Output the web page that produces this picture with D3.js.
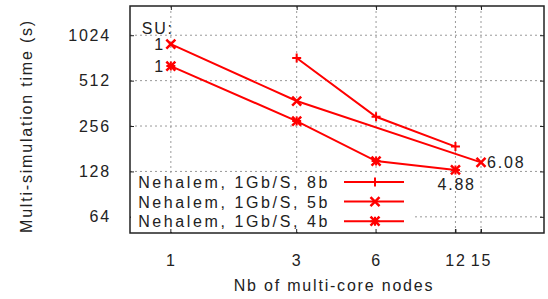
<!DOCTYPE html>
<html>
<head>
<meta charset="utf-8">
<script src="https://cdn.jsdelivr.net/npm/d3@7"></script>
<style>
  body { margin: 0; background: #fff; }
  text { font-family: "Liberation Sans", Arial, sans-serif; font-size: 16px; fill: #222; letter-spacing: 1.8px; }
  .legend text { letter-spacing: 2.6px; }
</style>
</head>
<body>
<div id="chart-container"></div>
<script>
// data
var xTicks = [1, 3, 6, 12, 15];
var yTicks = [64, 128, 256, 512, 1024];
var seriesNames = ["Nehalem, 1Gb/S, 8b", "Nehalem, 1Gb/S, 5b", "Nehalem, 1Gb/S, 4b"];
var nodes8b = [3, 6, 12];
var time8b = [724, 295, 187];
var nodes5b = [1, 3, 15];
var time5b = [894, 375, 147];
var nodes4b = [1, 3, 6, 12];
var time4b = [639, 276, 150, 131];

var W = 548, H = 299;
var margin = { top: 6, right: 4, bottom: 66, left: 130 },
    width = W - margin.left - margin.right,
    height = H - margin.top - margin.bottom;

var svg = d3.select("#chart-container")
    .append("svg")
    .attr("width", W)
    .attr("height", H)
    .append("g")
    .attr("transform", "translate(" + margin.left + "," + margin.top + ")");

var x = d3.scaleLog().domain([0.7, 26]).range([0, width]);
var y = d3.scaleLog().base(2).domain([50, 1600]).range([height, 0]);
var red = "#ff0000";

// grid
svg.selectAll(".gx").data(xTicks).enter().append("line")
    .attr("x1", d => x(d)).attr("x2", d => x(d))
    .attr("y1", 0).attr("y2", height)
    .attr("stroke", "#999").attr("stroke-dasharray", "2,3");
svg.selectAll(".gy").data(yTicks).enter().append("line")
    .attr("x1", 0).attr("x2", width)
    .attr("y1", d => y(d)).attr("y2", d => y(d))
    .attr("stroke", "#999").attr("stroke-dasharray", "2,3");

// axes with inward ticks
var fmt = d3.format("d");
var axB = svg.append("g").attr("transform", "translate(0," + height + ")")
    .call(d3.axisBottom(x).tickValues(xTicks).tickFormat(fmt).tickSizeInner(-4).tickSizeOuter(0).tickPadding(22));
var axT = svg.append("g")
    .call(d3.axisTop(x).tickValues(xTicks).tickFormat("").tickSizeInner(-4).tickSizeOuter(0));
var axL = svg.append("g")
    .call(d3.axisLeft(y).tickValues(yTicks).tickFormat(fmt).tickSizeInner(-4).tickSizeOuter(0).tickPadding(19));
var axR = svg.append("g").attr("transform", "translate(" + width + ",0)")
    .call(d3.axisRight(y).tickValues(yTicks).tickFormat("").tickSizeInner(-4).tickSizeOuter(0));
[axB, axT, axL, axR].forEach(function(a) {
    a.select(".domain").remove();
    a.selectAll("line").attr("stroke", "#222");
    a.selectAll("text").attr("font-size", null).attr("font-family", null).style("fill", "#222");
});

// series
var series = [
    { nodes: nodes8b, time: time8b, mark: "plus" },
    { nodes: nodes5b, time: time5b, mark: "cross" },
    { nodes: nodes4b, time: time4b, mark: "star" }
];

function marker(g, cx, cy, type) {
    var s = 4.5;
    if (type === "plus" || type === "star") {
        g.append("path").attr("d", "M" + (cx - s) + "," + cy + "H" + (cx + s) + "M" + cx + "," + (cy - s) + "V" + (cy + s))
            .attr("stroke", red).attr("stroke-width", 2);
    }
    if (type === "cross" || type === "star") {
        g.append("path").attr("d", "M" + (cx - s) + "," + (cy - s) + "L" + (cx + s) + "," + (cy + s) +
            "M" + (cx - s) + "," + (cy + s) + "L" + (cx + s) + "," + (cy - s))
            .attr("stroke", red).attr("stroke-width", 2.5);
    }
}

var line = d3.line().x(d => x(d[0])).y(d => y(d[1]));
series.forEach(function(s) {
    var pts = s.nodes.map((n, i) => [n, s.time[i]]);
    svg.append("path").datum(pts).attr("d", line)
        .attr("fill", "none").attr("stroke", red).attr("stroke-width", 2);
    var g = svg.append("g");
    pts.forEach(p => marker(g, x(p[0]), y(p[1]), s.mark));
});

// speed-up labels
svg.append("text").attr("x", x(1) + 3).attr("y", y(1024) - 1).attr("text-anchor", "end").text("SU:");
svg.append("text").attr("x", x(1) - 6).attr("y", y(time5b[0]) + 6).attr("text-anchor", "end").text("1");
svg.append("text").attr("x", x(1) - 6).attr("y", y(time4b[0]) + 6).attr("text-anchor", "end").text("1");
svg.append("text").attr("x", x(15) + 6).attr("y", y(time5b[2]) + 6)
    .text((time5b[0] / time5b[2]).toFixed(2));
svg.append("text").attr("x", x(12) - 18).attr("y", y(time4b[3]) + 20)
    .text((time4b[0] / time4b[3]).toFixed(2));

// legend
var leg = svg.append("g").attr("class", "legend");
leg.append("rect").attr("x", 1).attr("y", 170).attr("width", 283).attr("height", height - 171).attr("fill", "#fff");
seriesNames.forEach(function(name, i) {
    var ly = 176 + i * 19.6;
    leg.append("text").attr("x", 200).attr("y", ly + 6).attr("text-anchor", "end").text(name);
    leg.append("line").attr("x1", 214).attr("x2", 274).attr("y1", ly).attr("y2", ly)
        .attr("stroke", red).attr("stroke-width", 2);
    marker(leg, 245, ly, series[i].mark);
});
// bottom ticks drawn over legend
svg.append("g").selectAll("line").data(xTicks).enter().append("line")
    .attr("x1", d => x(d)).attr("x2", d => x(d)).attr("y1", height).attr("y2", height - 4)
    .attr("stroke", "#222");

// border
svg.append("rect").attr("width", width).attr("height", height)
    .attr("fill", "none").attr("stroke", "#222").attr("stroke-width", 1.5);

// axis titles
svg.append("text").attr("x", 334 - margin.left).attr("y", 291 - margin.top)
    .attr("text-anchor", "middle").text("Nb of multi-core nodes");
svg.append("text").attr("transform", "translate(" + (32 - margin.left) + "," + (126 - margin.top) + ") rotate(-90)")
    .attr("text-anchor", "middle").text("Multi-simulation time (s)");
</script>
</body>
</html>
